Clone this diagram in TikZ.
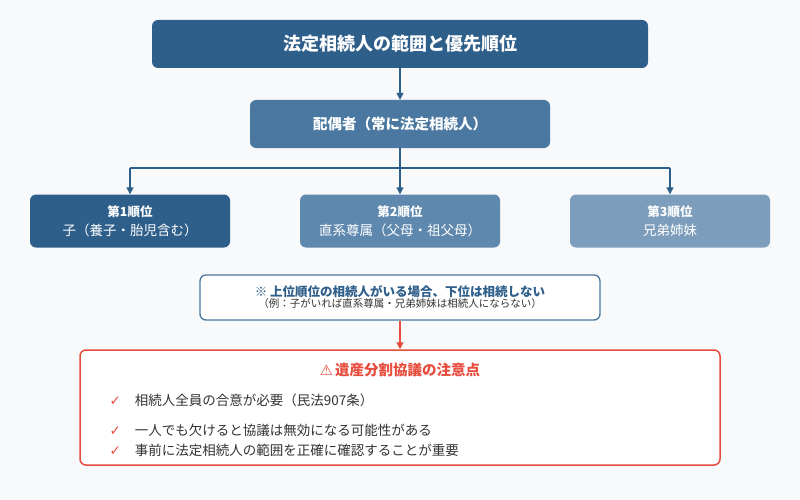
\documentclass[tikz,border=0pt]{standalone}
\usepackage{fontspec}
\setmainfont{Noto Sans CJK JP}
\newfontfamily\dejavu{DejaVu Sans}
\usetikzlibrary{arrows.meta}
\definecolor{bg}{HTML}{F7F9FB}
\definecolor{c1}{HTML}{2E5E8A}
\definecolor{c2}{HTML}{4A78A0}
\definecolor{c3}{HTML}{5E88AE}
\definecolor{c4}{HTML}{7C9DBB}
\definecolor{rd}{HTML}{E74C3C}
\definecolor{tx}{HTML}{333333}
\begin{document}
\begin{tikzpicture}[x=1pt,y=-1pt,
 box/.style={rounded corners=6pt,text=white,align=center,inner sep=0pt},
 ar/.style={-{Triangle[length=7pt,width=7pt]},line width=1.3pt,c1}]
\fill[bg] (0,0) rectangle (800,500);
\node[box,fill=c1,minimum width=496pt,minimum height=48pt,font=\bfseries\fontsize{18}{22}\selectfont] (t) at (400,44) {法定相続人の範囲と優先順位};
\node[box,fill=c2,minimum width=300pt,minimum height=48pt,font=\bfseries\fontsize{14.5}{18}\selectfont] (s) at (400,124) {配偶者（常に法定相続人）};
\node[box,fill=c1,minimum width=200pt,minimum height=53pt,font=\fontsize{13.5}{19}\selectfont] (b1) at (130,221) {{\bfseries\fontsize{12.5}{16}\selectfont 第1順位}\\子（養子・胎児含む）};
\node[box,fill=c3,minimum width=200pt,minimum height=53pt,font=\fontsize{13.5}{19}\selectfont] (b2) at (400,221) {{\bfseries\fontsize{12.5}{16}\selectfont 第2順位}\\直系尊属（父母・祖父母）};
\node[box,fill=c4,minimum width=200pt,minimum height=53pt,font=\fontsize{13.5}{19}\selectfont] (b3) at (670,221) {{\bfseries\fontsize{12.5}{16}\selectfont 第3順位}\\兄弟姉妹};
\draw[ar] (t.south) -- (s.north);
\coordinate (j) at (400,168);
\coordinate (jl) at (130,168);
\coordinate (jr) at (670,168);
\draw[c1,line width=1.3pt] (s.south) -- (j) (jl) -- (jr);
\draw[ar] (jl) -- (b1.north);
\draw[ar] (j) -- (b2.north);
\draw[ar] (jr) -- (b3.north);
\node[draw=c2,fill=white,line width=1.3pt,rounded corners=6pt,minimum width=400pt,minimum height=45pt,align=center,inner sep=0pt] (n) at (400,297.5)
 {{\color{c1}\bfseries\fontsize{12.5}{15}\selectfont ※ 上位順位の相続人がいる場合、下位は相続しない}\\[-1pt]{\color{tx}\fontsize{10.5}{13}\selectfont（例：子がいれば直系尊属・兄弟姉妹は相続人にならない）}};
\node[draw=rd,fill=white,line width=1.5pt,rounded corners=6pt,minimum width=640pt,minimum height=115pt] (r) at (400,407.5) {};
\draw[-{Triangle[length=7pt,width=7pt]},line width=1.3pt,rd] (n.south) -- (r.north);
\node[text=rd,font=\bfseries\fontsize{14.5}{18}\selectfont] (rt) at (400,370) {{\dejavu ⚠}\,遺産分割協議の注意点};
\node[anchor=west,text=tx,font=\fontsize{13.5}{16}\selectfont] (l1) at (106,400) {{\color{rd}\dejavu ✓}\hspace{14pt}相続人全員の合意が必要（民法907条）};
\node[anchor=west,text=tx,font=\fontsize{13.5}{16}\selectfont] (l2) at (106,430) {{\color{rd}\dejavu ✓}\hspace{14pt}一人でも欠けると協議は無効になる可能性がある};
\node[anchor=west,text=tx,font=\fontsize{13.5}{16}\selectfont] (l3) at (106,450) {{\color{rd}\dejavu ✓}\hspace{14pt}事前に法定相続人の範囲を正確に確認することが重要};
\end{tikzpicture}
\end{document}
